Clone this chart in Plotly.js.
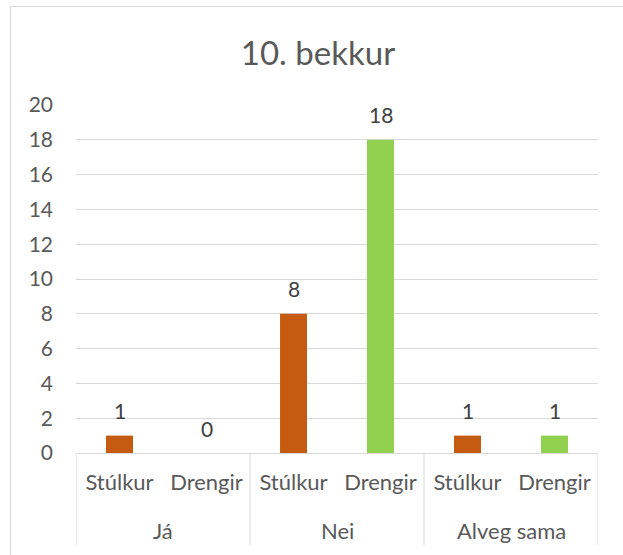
<!DOCTYPE html>
<html>
<head>
<meta charset="utf-8">
<script src="https://cdn.plot.ly/plotly-3.0.1.min.js"></script>
<style>html,body{margin:0;padding:0;background:#fff;}#chart{width:623px;height:555px;}</style>
</head>
<body>
<div id="chart"></div>
<script>
const groups = ["Já", "Nei", "Alveg sama"];
const subcats = ["Stúlkur", "Drengir"];
const girls = [1, 8, 1];
const boys = [0, 18, 1];
const yTicks = [0, 2, 4, 6, 8, 10, 12, 14, 16, 18, 20];

const font = "Lato, 'Open Sans', sans-serif";
const textColor = "#595959";
const lineColor = "#D9D9D9";

// positions along the x axis: each group holds its subcategories in order
const nSub = subcats.length;
const xGirls = groups.map((g, i) => i * nSub + 0);
const xBoys = groups.map((g, i) => i * nSub + 1);
const subTickVals = [];
const subTickText = [];
groups.forEach((g, i) => subcats.forEach((s, j) => { subTickVals.push(i * nSub + j); subTickText.push(s); }));

const traceGirls = {
  type: "bar", x: xGirls, y: girls, width: 0.31,
  marker: {color: "#C55A11"}, name: subcats[0], hoverinfo: "y"
};
const traceBoys = {
  type: "bar", x: xBoys, y: boys, width: 0.31,
  marker: {color: "#92D050"}, name: subcats[1], hoverinfo: "y"
};

const annotations = [];
// data labels
groups.forEach((g, i) => {
  [[xGirls[i], girls[i]], [xBoys[i], boys[i]]].forEach(([x, v]) => {
    annotations.push({
      x: x, y: v, xref: "x", yref: "y",
      text: String(v), showarrow: false,
      yanchor: "middle", yshift: 25,
      font: {family: font, size: 21, color: "#404040"}
    });
  });
});
// group labels
groups.forEach((g, i) => {
  annotations.push({
    x: i * nSub + (nSub - 1) / 2, y: (453 - 530) / 348, xref: "x", yref: "paper",
    text: g, showarrow: false, yanchor: "middle", xanchor: "center",
    font: {family: font, size: 22, color: textColor}
  });
});

// group dividers
const shapes = [];
for (let i = 0; i <= groups.length; i++) {
  shapes.push({
    type: "line", xref: "x", yref: "paper",
    x0: i * nSub - 0.5, x1: i * nSub - 0.5, y0: 0, y1: (453 - 545) / 348,
    line: {color: lineColor, width: 1}
  });
}
// chart frame
shapes.push({
  type: "rect", xref: "paper", yref: "paper",
  x0: (10.5 - 76) / 522, x1: 2, y0: -1, y1: (453 - 6.5) / 348,
  line: {color: lineColor, width: 1}, fillcolor: "rgba(0,0,0,0)", layer: "below"
});

const layout = {
  width: 623, height: 555,
  margin: {l: 76, r: 25, t: 105, b: 102},
  paper_bgcolor: "#fff", plot_bgcolor: "#fff",
  showlegend: false,
  barmode: "overlay",
  title: {text: "10. bekkur", x: 318 / 623, xanchor: "center", y: 1 - 53 / 555, yanchor: "middle",
          font: {family: font, size: 33, color: textColor}},
  xaxis: {
    range: [-0.5, groups.length * nSub - 0.5],
    tickvals: subTickVals, ticktext: subTickText,
    showline: true, linecolor: lineColor, linewidth: 1,
    tickfont: {family: font, size: 22, color: textColor},
    ticklabelstandoff: 10,
    showgrid: false, zeroline: false, ticks: ""
  },
  yaxis: {
    range: [0, 20], tickvals: yTicks, ticktext: yTicks.map(String),
    showgrid: true, gridcolor: lineColor, gridwidth: 1,
    zeroline: false, showline: false, ticks: "",
    ticklabelstandoff: 22,
    tickfont: {family: font, size: 21, color: textColor}
  },
  annotations: annotations,
  shapes: shapes
};

Plotly.newPlot("chart", [traceGirls, traceBoys], layout, {displayModeBar: false, staticPlot: true});
</script>
</body>
</html>
